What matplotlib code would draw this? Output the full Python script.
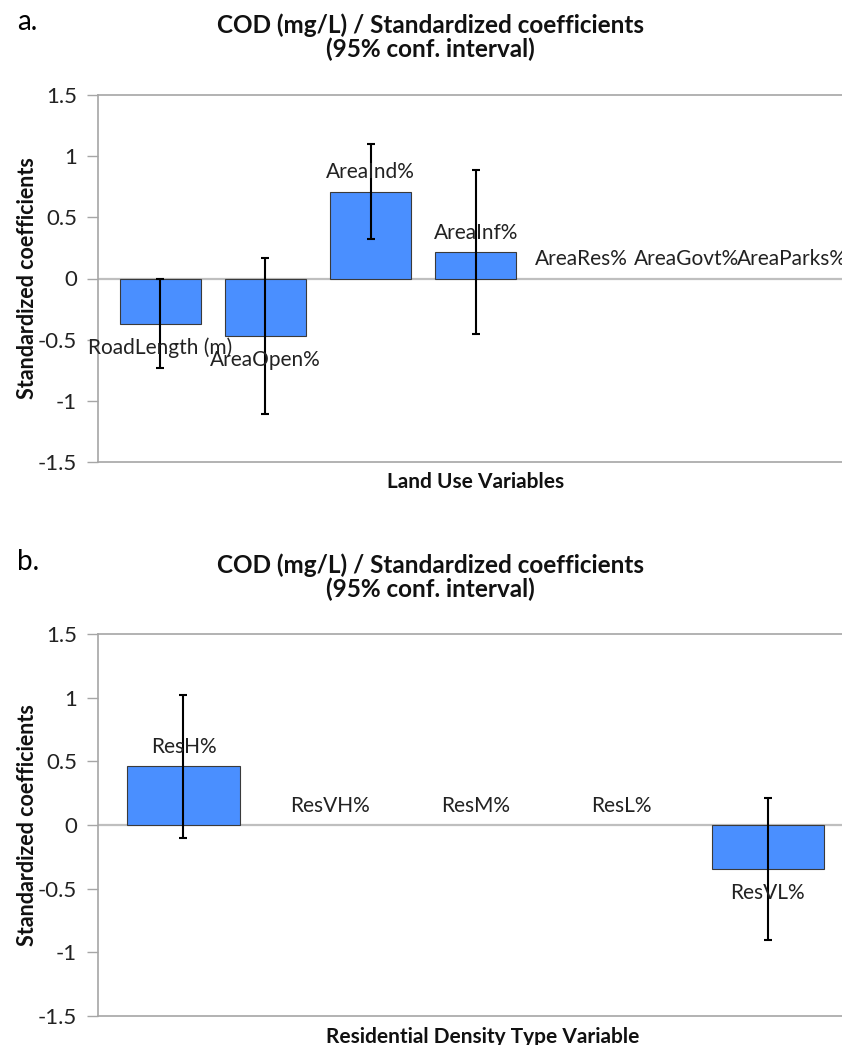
import matplotlib
matplotlib.use("Agg")
import matplotlib.pyplot as plt

plt.rcParams['font.family'] = ['Lato', 'DejaVu Sans']

land_vars = ['RoadLength (m)', 'AreaOpen%', 'AreaInd%', 'AreaInf%',
             'AreaRes%', 'AreaGovt%', 'AreaParks%']
land_coef = [-0.37, -0.47, 0.71, 0.215, 0, 0, 0]
land_ci = [0.365, 0.64, 0.39, 0.67, 0, 0, 0]

res_vars = ['ResH%', 'ResVH%', 'ResM%', 'ResL%', 'ResVL%']
res_coef = [0.46, 0, 0, 0, -0.345]
res_ci = [0.56, 0, 0, 0, 0.56]

yticks = [-1.5, -1, -0.5, 0, 0.5, 1, 1.5]
ytick_labels = ['-1.5', '-1', '-0.5', '0', '0.5', '1', '1.5']

title = 'COD (mg/L) / Standardized coefficients\n(95% conf. interval)'
bar_color = '#4A8FFF'
grey = '#A6A6A6'

fig = plt.figure(figsize=(8.42, 10.45), dpi=100)


def panel(rect, names, coef, ci, xlim, xlabel, xlab_x):
    ax = fig.add_axes(rect)
    x = list(range(len(names)))
    # zero-height bars get no outline, like in the original
    lws = [0.8 if c != 0 else 0 for c in coef]
    ax.bar(x, coef, width=0.77, color=bar_color, edgecolor='#3a3a3a',
           linewidth=lws, zorder=2)
    ax.axhline(0, color='#BFBFBF', lw=1.6, zorder=1)
    for i in x:
        if ci[i] > 0:
            ax.errorbar(i, coef[i], yerr=ci[i], fmt='none', ecolor='black',
                        elinewidth=1.5, capsize=3, capthick=1.5, zorder=3)
    for i in x:
        off = -17 if coef[i] < 0 else 14
        ax.annotate(names[i], (i, coef[i]), xytext=(0, off),
                    textcoords='offset points', ha='center', va='center',
                    fontsize=15, color='#222222', annotation_clip=False,
                    zorder=4)
    ax.set_xlim(*xlim)
    ax.set_ylim(-1.5, 1.5)
    ax.set_yticks(yticks)
    ax.set_yticklabels(ytick_labels, fontsize=16, color='#222222')
    ax.set_xticks([])
    ax.tick_params(axis='y', direction='out', length=8, width=1, color=grey,
                   pad=7)
    for s in ['left', 'top', 'bottom']:
        ax.spines[s].set_color(grey)
        ax.spines[s].set_linewidth(1.2)
    ax.spines['right'].set_visible(False)
    ax.set_ylabel('Standardized coefficients', fontsize=15.5,
                  fontweight='bold', color='#111111', va='center')
    ax.yaxis.set_label_coords(-0.0954, 0.5)
    ax.set_xlabel(xlabel, fontsize=15, fontweight='bold', color='#111111',
                  va='center')
    ax.xaxis.set_label_coords(xlab_x, -0.055)
    return ax


panel([98 / 842, 1 - 462 / 1045, 744 / 842, 367 / 1045],
      land_vars, land_coef, land_ci, (-0.59, 6.48),
      'Land Use Variables', 0.508)
panel([98 / 842, 1 - 1016 / 1045, 744 / 842, 382 / 1045],
      res_vars, res_coef, res_ci, (-0.585, 4.507),
      'Residential Density Type Variable', 0.517)

fig.text(430 / 842, 1 - 37 / 1045, title, ha='center', va='center',
         fontsize=17.5, fontweight='bold', linespacing=1.05, color='#111111')
fig.text(430 / 842, 1 - 577 / 1045, title, ha='center', va='center',
         fontsize=17.5, fontweight='bold', linespacing=1.05, color='#111111')
fig.text(17 / 842, 1 - 22 / 1045, 'a.', ha='left', va='center', fontsize=20)
fig.text(17 / 842, 1 - 562 / 1045, 'b.', ha='left', va='center', fontsize=20)

fig.savefig('out.png', dpi=100)
